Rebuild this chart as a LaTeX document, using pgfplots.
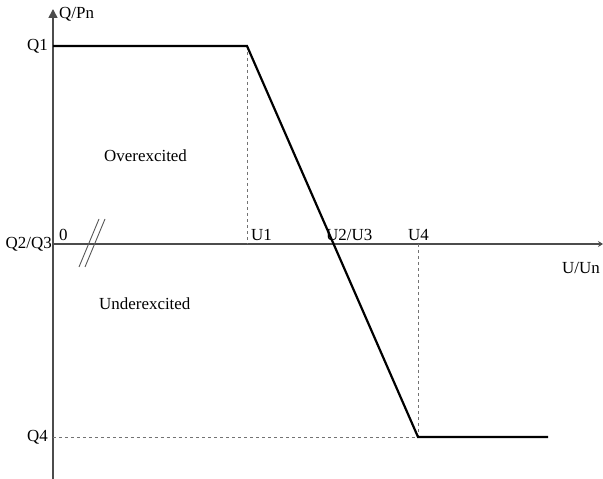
\documentclass[border=0pt]{standalone}
\usepackage{pgfplots}
\pgfplotsset{compat=1.18}
\usepackage{fontspec}
\setmainfont{Liberation Serif}
\usetikzlibrary{arrows.meta}
\tikzset{lbl/.style={font=\fontsize{17}{20}\selectfont, inner sep=1pt}}
\begin{document}
\begin{tikzpicture}
\begin{axis}[name=ax, scale only axis, width=603bp, height=479bp,
  xmin=0, xmax=603, ymin=0, ymax=479, axis lines=none, clip=false]
% axes
\addplot[draw=black!70, line width=1.6pt, -{Triangle[length=9bp,width=9bp]}] coordinates {(53,0) (53,470)};
\addplot[draw=black!70, line width=1.2pt, -{Stealth[length=5bp,width=6bp]}] coordinates {(53,235) (603,235)};
% dashed guides
\addplot[draw=black!55, dashed, line width=0.7pt] coordinates {(247,433) (247,235)};
\addplot[draw=black!55, dashed, line width=0.7pt] coordinates {(418,235) (418,42)};
\addplot[draw=black!55, dashed, line width=0.7pt] coordinates {(53,42) (418,42)};
% characteristic
\addplot[draw=black, line width=2.2pt, line join=miter] coordinates {(53,433) (247,433) (418,42) (548,42)};
% axis break marks
\addplot[draw=black!65, line width=0.9pt] coordinates {(79,212) (99,260)};
\addplot[draw=black!65, line width=0.9pt] coordinates {(85,212) (105,260)};
% labels
\node[lbl, anchor=west] at (axis cs:58,465) {Q/Pn};
\node[lbl, anchor=east] at (axis cs:49,433) {Q1};
\node[lbl, anchor=east] at (axis cs:53,235) {Q2/Q3};
\node[lbl, anchor=east] at (axis cs:49,42) {Q4};
\node[lbl, anchor=west] at (axis cs:58,244) {0};
\node[lbl, anchor=west] at (axis cs:250,244) {U1};
\node[lbl, anchor=west] at (axis cs:325,244) {U2/U3};
\node[lbl, anchor=west] at (axis cs:407,244) {U4};
\node[lbl, anchor=east] at (axis cs:601,211) {U/Un};
\node[lbl, anchor=west] at (axis cs:103,323) {Overexcited};
\node[lbl, anchor=west] at (axis cs:98,175) {Underexcited};
\end{axis}
\pgfresetboundingbox
\path[use as bounding box] (ax.south west) rectangle (ax.north east);
\end{tikzpicture}
\end{document}
